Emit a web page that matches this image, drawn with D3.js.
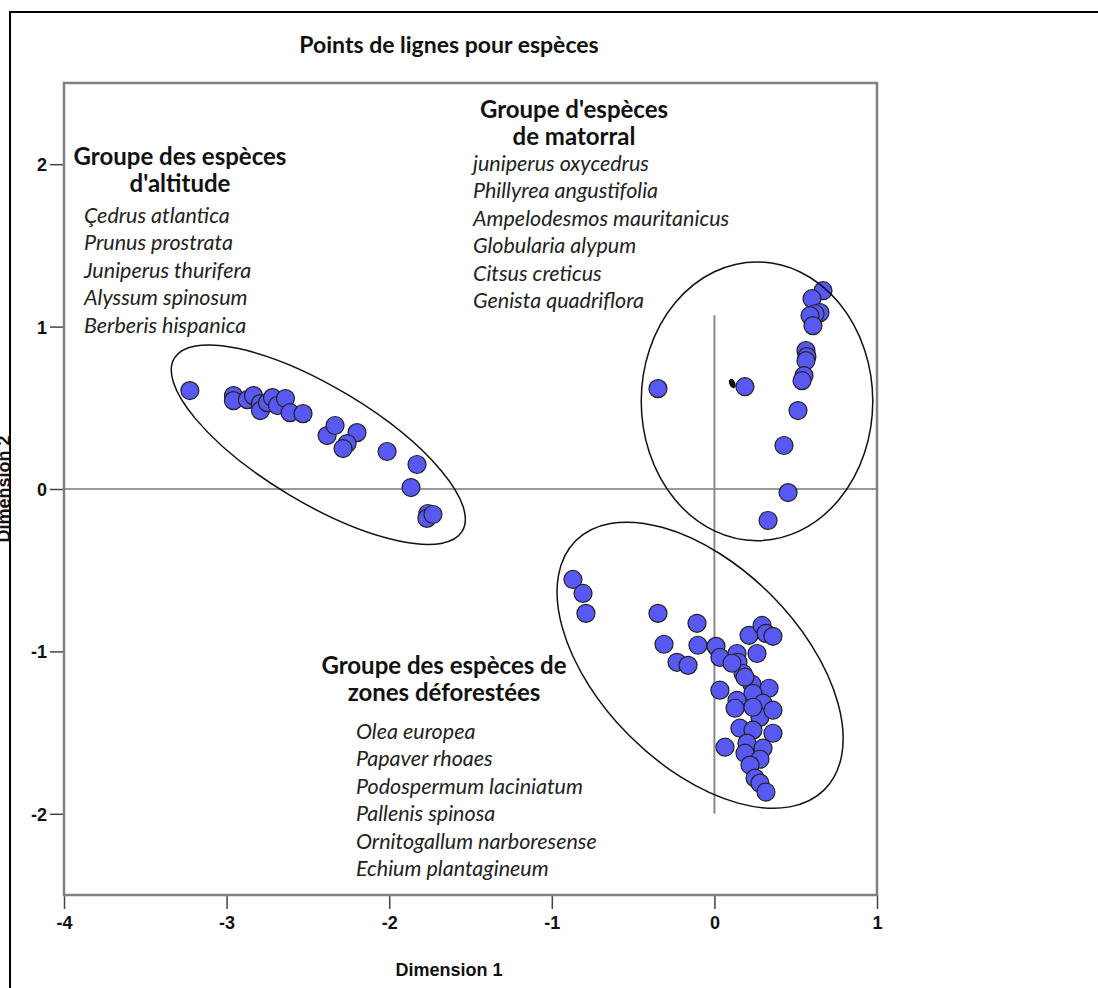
<!DOCTYPE html>
<html>
<head>
<meta charset="utf-8">
<script src="https://cdn.jsdelivr.net/npm/d3@7"></script>
<style>
  body { margin: 0; background: #fff; }
  svg { display: block; }
  .tick text { font-family: "Liberation Sans", Arial, sans-serif; font-weight: bold; font-size: 18px; fill: #111; }
  .grp { font-family: Lato, "Open Sans", sans-serif; font-weight: bold; font-size: 24px; fill: #111; }
  .sp { font-family: Lato, "Open Sans", sans-serif; font-style: italic; font-size: 21.5px; fill: #222; }
  .axt { font-family: "Liberation Sans", Arial, sans-serif; font-weight: bold; font-size: 18px; fill: #111; }
</style>
</head>
<body>
<script>
// object points, dimension 1 / dimension 2
var altX = [-3.226, -2.958, -2.958, -2.872, -2.835, -2.792, -2.792, -2.749, -2.718, -2.687, -2.638, -2.610,
            -2.530, -2.382, -2.333, -2.198, -2.259, -2.284, -2.013, -1.829, -1.866, -1.762, -1.768, -1.731];
var altY = [0.606, 0.575, 0.544, 0.550, 0.575, 0.526, 0.483, 0.532, 0.563, 0.514, 0.557, 0.470,
            0.464, 0.329, 0.391, 0.347, 0.280, 0.249, 0.231, 0.151, 0.009, -0.151, -0.181, -0.157];

var matX = [-0.347, 0.188, 0.668, 0.600, 0.649, 0.619, 0.588, 0.606, 0.563, 0.569, 0.563, 0.551, 0.539, 0.514, 0.428, 0.453, 0.330];
var matY = [0.618, 0.630, 1.221, 1.172, 1.086, 1.079, 1.067, 1.006, 0.852, 0.815, 0.790, 0.698, 0.667, 0.483, 0.268, -0.022, -0.194];

var defX = [-0.870, -0.808, -0.790, -0.347, -0.107, -0.310, -0.101, -0.230, -0.162, 0.010, 0.034, 0.139, 0.145,
            0.213, 0.293, 0.317, 0.360, 0.262, 0.176, 0.034, 0.231, 0.336, 0.237, 0.139, 0.127, 0.299, 0.280,
            0.157, 0.237, 0.360, 0.065, 0.200, 0.299, 0.188, 0.280, 0.219, 0.250, 0.280, 0.317, 0.108, 0.188, 0.360, 0.237];
var defY = [-0.557, -0.643, -0.766, -0.766, -0.827, -0.956, -0.962, -1.067, -1.086, -0.969, -1.037, -1.013, -1.067,
            -0.901, -0.840, -0.889, -0.907, -1.013, -1.136, -1.239, -1.202, -1.227, -1.258, -1.301, -1.350, -1.319, -1.405,
            -1.473, -1.485, -1.504, -1.590, -1.565, -1.596, -1.627, -1.664, -1.700, -1.780, -1.811, -1.866, -1.073, -1.159, -1.362, -1.344];

// group ellipses: centre, semi axes (data units), rotation (deg, screen)
var ellCx = [-2.436, 0.262, -0.088];
var ellCy = [0.273, 0.540, -1.085];
var ellRx = [1.033, 0.712, 1.082];
var ellRy = [0.357, 0.858, 0.615];
var ellRot = [31, 0, 45];

var xTicks = [-4, -3, -2, -1, 0, 1];
var yTicks = [-2, -1, 0, 1, 2];

var title = "Points de lignes pour espèces";
var altTitle = ["Groupe des espèces", "d'altitude"];
var altSpecies = ["Çedrus atlantica", "Prunus prostrata", "Juniperus thurifera", "Alyssum spinosum", "Berberis hispanica"];
var matTitle = ["Groupe d'espèces", "de matorral"];
var matSpecies = ["juniperus oxycedrus", "Phillyrea angustifolia", "Ampelodesmos mauritanicus", "Globularia alypum", "Citsus creticus", "Genista quadriflora"];
var defTitle = ["Groupe des espèces de", "zones déforestées"];
var defSpecies = ["Olea europea", "Papaver rhoaes", "Podospermum laciniatum", "Pallenis spinosa", "Ornitogallum narboresense", "Echium plantagineum"];

var width = 1098, height = 988;
var margin = {top: 83, left: 64, right: 221, bottom: 93};

var svg = d3.select("body").append("svg")
    .attr("width", width)
    .attr("height", height);

// outer frame
svg.append("rect")
  .attr("x", 10).attr("y", 12)
  .attr("width", 1300).attr("height", 1300)
  .attr("fill", "none").attr("stroke", "#000").attr("stroke-width", 2);

var x = d3.scaleLinear().domain([-4, 1]).range([margin.left, width - margin.right]);
var y = d3.scaleLinear().domain([-2.5, 2.5]).range([height - margin.bottom, margin.top]);

svg.append("text")
  .attr("class", "grp")
  .attr("x", 449).attr("y", 53)
  .attr("text-anchor", "middle")
  .style("font-size", "23px")
  .text(title);

// axes
var fmt = function(d) { return String(d); };
var xAxis = svg.append("g")
  .attr("transform", `translate(0, ${y(-2.5)})`)
  .call(d3.axisBottom(x).tickValues(xTicks).tickFormat(fmt).tickSize(14).tickPadding(7));
var yAxis = svg.append("g")
  .attr("transform", `translate(${x(-4)}, 0)`)
  .call(d3.axisLeft(y).tickValues(yTicks).tickFormat(fmt).tickSize(14).tickPadding(3));
[xAxis, yAxis].forEach(function(a) {
  a.select(".domain").remove();
  a.selectAll(".tick line").attr("stroke", "#444").attr("stroke-width", 1.5);
});
yAxis.selectAll(".tick text").attr("dy", "0.36em");

// plot frame
svg.append("rect")
  .attr("x", x(-4)).attr("y", y(2.5))
  .attr("width", x(1) - x(-4)).attr("height", y(-2.5) - y(2.5))
  .attr("fill", "none").attr("stroke", "#808080").attr("stroke-width", 2.5);

// reference lines
svg.append("line")
  .attr("x1", x(-4)).attr("x2", x(1)).attr("y1", y(0)).attr("y2", y(0))
  .attr("stroke", "#777").attr("stroke-width", 1.5);
svg.append("line")
  .attr("x1", x(0)).attr("x2", x(0)).attr("y1", y(1.07)).attr("y2", y(-2.0))
  .attr("stroke", "#8a8a8a").attr("stroke-width", 2);

// axis titles
svg.append("text")
  .attr("class", "axt")
  .attr("x", 449).attr("y", 976)
  .attr("text-anchor", "middle")
  .text("Dimension 1");
svg.append("text")
  .attr("class", "axt")
  .attr("transform", `translate(10, ${y(0)}) rotate(-90)`)
  .attr("text-anchor", "middle")
  .text("Dimension 2");

// text blocks
function block(lines, cx, y0, species, sx, s0) {
  lines.forEach(function(t, i) {
    svg.append("text").attr("class", "grp")
      .attr("x", cx).attr("y", y0 + i * 27)
      .attr("text-anchor", "middle").text(t);
  });
  species.forEach(function(t, i) {
    svg.append("text").attr("class", "sp")
      .attr("x", sx).attr("y", s0 + i * 27.4).text(t);
  });
}
block(altTitle, 180, 165, altSpecies, 84, 223);
block(matTitle, 574, 118, matSpecies, 473, 171);
block(defTitle, 444, 674, defSpecies, 356, 739);

// points
var pts = [];
[[altX, altY], [matX, matY], [defX, defY]].forEach(function(s) {
  s[0].forEach(function(v, i) { pts.push({x: v, y: s[1][i]}); });
});
svg.append("g").selectAll("circle")
  .data(pts)
  .enter().append("circle")
  .attr("cx", function(d) { return x(d.x); })
  .attr("cy", function(d) { return y(d.y); })
  .attr("r", 9)
  .attr("fill", "#5858f2")
  .attr("stroke", "#222")
  .attr("stroke-width", 1.2);

// small stray mark
svg.append("ellipse")
  .attr("cx", x(0.11)).attr("cy", y(0.65))
  .attr("rx", 3).attr("ry", 5)
  .attr("transform", `rotate(-25, ${x(0.11)}, ${y(0.65)})`)
  .attr("fill", "#111");

// ellipses
svg.append("g").selectAll("ellipse.grp-ell")
  .data(ellCx.map(function(c, i) { return {cx: c, cy: ellCy[i], rx: ellRx[i], ry: ellRy[i], rot: ellRot[i]}; }))
  .enter().append("ellipse")
  .attr("class", "grp-ell")
  .attr("cx", function(d) { return x(d.cx); })
  .attr("cy", function(d) { return y(d.cy); })
  .attr("rx", function(d) { return x(d.cx + d.rx) - x(d.cx); })
  .attr("ry", function(d) { return y(d.cy) - y(d.cy + d.ry); })
  .attr("transform", function(d) { return `rotate(${d.rot}, ${x(d.cx)}, ${y(d.cy)})`; })
  .attr("fill", "none")
  .attr("stroke", "#111")
  .attr("stroke-width", 1.5);
</script>
</body>
</html>
